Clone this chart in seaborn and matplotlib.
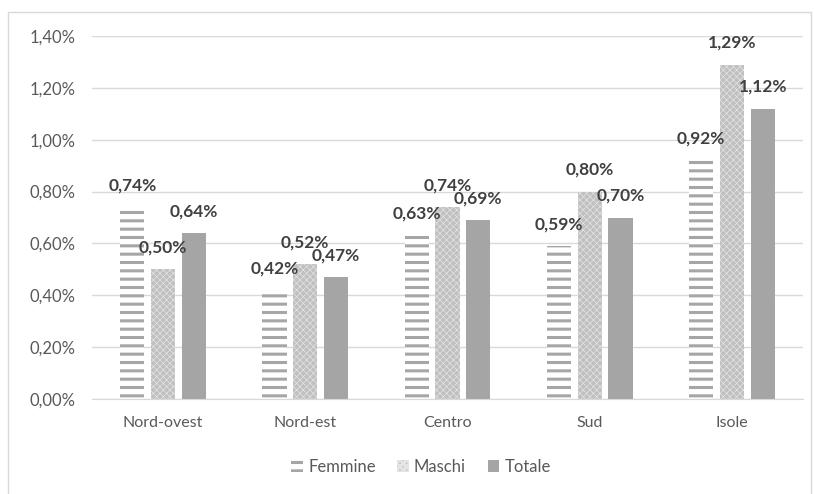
import matplotlib
matplotlib.use('Agg')
import matplotlib.pyplot as plt
import matplotlib.patches as mpatches
from matplotlib.ticker import FuncFormatter
import pandas as pd
import seaborn as sns

# Data (values in %)
regions = ['Nord-ovest', 'Nord-est', 'Centro', 'Sud', 'Isole']
femmine = [0.74, 0.42, 0.63, 0.59, 0.92]
maschi = [0.50, 0.52, 0.74, 0.80, 1.29]
totale = [0.64, 0.47, 0.69, 0.70, 1.12]
series = ['Femmine', 'Maschi', 'Totale']

df = pd.DataFrame({'regione': regions * 3,
                   'gruppo': [s for s in series for _ in regions],
                   'valore': femmine + maschi + totale})

sns.set_style('white')
plt.rcParams['font.family'] = ['Lato', 'DejaVu Sans']
plt.rcParams['hatch.linewidth'] = 2.2

text_col = '#595959'
grid_col = '#d9d9d9'
styles = {
    'Femmine': dict(facecolor='white', edgecolor='#a6a6a6', hatch='--', lw=2.2),
    'Maschi': dict(facecolor='#c0c0c0', edgecolor='#e4e4e4', hatch='xxxxx', lw=0.5),
    'Totale': dict(facecolor='#a5a5a5', edgecolor='#a5a5a5', hatch=None, lw=0),
}

fig = plt.figure(figsize=(8.14, 4.94), dpi=100)
ax = fig.add_axes([92 / 814, 1 - 399 / 494, 711 / 814, 363 / 494])

sns.barplot(data=df, x='regione', y='valore', hue='gruppo', order=regions,
            hue_order=series, width=0.65, gap=0.22, ax=ax, legend=False,
            palette=['white', '#c0c0c0', '#a5a5a5'])

# style bars per series (seaborn draws them hue by hue)
for i, s in enumerate(series):
    st = styles[s]
    for bar in ax.containers[i]:
        bar.set_facecolor(st['facecolor'])
        bar.set_edgecolor(st['edgecolor'])
        bar.set_linewidth(0)
        if st['hatch']:
            bar.set_hatch(st['hatch'])
            try:
                bar.set_hatch_linewidth(st['lw'])
            except AttributeError:
                pass
    labels = [f"{v:.2f}%".replace('.', ',') for v in df.loc[df.gruppo == s, 'valore']]
    ax.bar_label(ax.containers[i], labels=labels, padding=10, fontsize=12.5,
                 fontweight='bold', color='#404040')

ax.set_ylim(0, 1.40)
ax.set_yticks([0.2 * k for k in range(8)])
ax.yaxis.set_major_formatter(FuncFormatter(lambda v, p: f"{v:.2f}%".replace('.', ',')))
ax.set_xlim(-0.5, 4.5)
ax.yaxis.grid(True, color=grid_col, lw=1)
ax.set_axisbelow(True)
for side in ['top', 'right', 'left']:
    ax.spines[side].set_visible(False)
ax.spines['bottom'].set_color(grid_col)
ax.tick_params(axis='y', length=0, pad=12, labelsize=12, labelcolor=text_col)
ax.tick_params(axis='x', length=0, pad=12, labelsize=11.5, labelcolor=text_col)
ax.set_xlabel('')
ax.set_ylabel('')

handles = [mpatches.Patch(facecolor=styles[s]['facecolor'], edgecolor=styles[s]['edgecolor'],
                          hatch=styles[s]['hatch'], lw=0, label=s) for s in series]
leg = fig.legend(handles=handles, loc='center', bbox_to_anchor=(421 / 814, 1 - 467 / 494),
                 ncol=3, frameon=False, fontsize=12, handlelength=0.7, handleheight=0.7,
                 handletextpad=0.3, columnspacing=1.3)
for t in leg.get_texts():
    t.set_color(text_col)

# outer chart frame
fig.patches.append(mpatches.Rectangle((8 / 814, -0.01), 803 / 814, 1 - 12 / 494 + 0.01,
                                      transform=fig.transFigure, fill=False,
                                      edgecolor=grid_col, lw=1))

fig.savefig('out.png', dpi=100)
